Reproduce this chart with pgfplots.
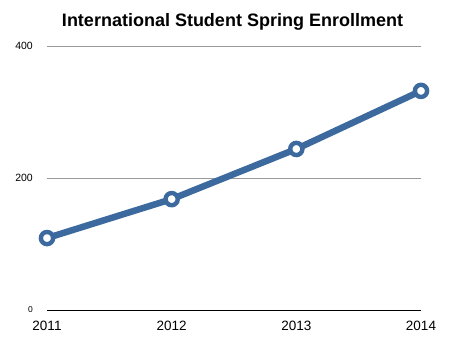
\documentclass[border=0pt]{standalone}
\usepackage{fontspec}
\setmainfont{Liberation Sans}
\usepackage{pgfplots}
\pgfplotsset{compat=1.18}
\definecolor{lineblue}{HTML}{3C6A9E}
\begin{document}
\begin{tikzpicture}[x=1pt,y=1pt]
\useasboundingbox (-47,-44) rectangle (419,310);
\begin{axis}[
  at={(0,0)}, anchor=south west,
  scale only axis, width=374pt, height=264pt,
  xmin=2011, xmax=2014, ymin=0, ymax=400,
  clip=false,
  axis line style={draw=none},
  tick style={draw=none},
  xtick={2011,2012,2013,2014},
  xticklabels={2011,2012,2013,2014},
  ytick={200,400},
  ymajorgrids,
  grid style={black!40, line width=0.8pt},
  extra y ticks={0},
  extra y tick style={grid style={black, line width=1pt}, yticklabel style={font=\fontsize{8.5}{9}\selectfont}},
  /pgf/number format/assume math mode=true,
  yticklabel style={font=\fontsize{10.5}{11}\selectfont, anchor=east, inner sep=0pt, xshift=-14pt},
  xticklabel style={font=\fontsize{13.5}{14}\selectfont, anchor=center, inner sep=0pt, yshift=-15.5pt},
]
\addplot[lineblue, line width=6.5pt, mark=*, mark size=6.1pt,
  mark options={fill=white, draw=lineblue, line width=4.4pt}]
  coordinates {(2011,109) (2012,168) (2013,244) (2014,332)};
\end{axis}
\node[font=\bfseries\fontsize{18}{19}\selectfont, anchor=base] at (185.5,283) {International Student Spring Enrollment};
\end{tikzpicture}
\end{document}
